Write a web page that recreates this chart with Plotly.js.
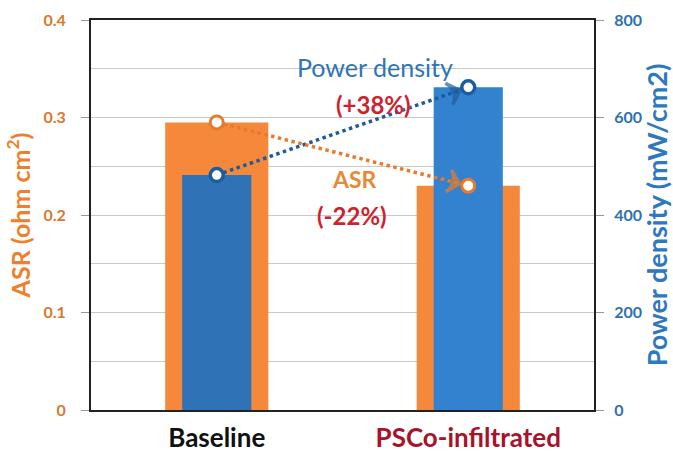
<!DOCTYPE html>
<html>
<head>
<meta charset="utf-8">
<script src="https://cdn.plot.ly/plotly-3.0.1.min.js"></script>
<style>html,body{margin:0;padding:0;background:#fff;}#chart{width:673px;height:454px;}</style>
</head>
<body>
<div id="chart"></div>
<script>
const categories = ['Baseline', 'PSCo-infiltrated'];
const asrValues = [0.295, 0.23];
const powerValues = [482, 662];
const tickLabels = ['Baseline', '<span style="color:#a8122a">PSCo-infiltrated</span>'];
const asrTicks = [0, 0.1, 0.2, 0.3, 0.4];
const powerTicks = [0, 200, 400, 600, 800];
const asrChange = '(-22%)';
const powerChange = '(+38%)';

const asrMax = 0.4, powerMax = 800;
const orange = '#f5883a';
const orangeLine = '#e97a2a';
const blueBars = ['#2f72b5', '#3282cf'];
const blueLine = '#1c5c9e';
const red = '#d01f2e';
const F = 'Lato, "Open Sans", sans-serif';

function arrowTrace(y, axis, color){
  return {type:'scatter', mode:'markers', x:categories, y:y, yaxis:axis,
    marker:{symbol:['circle','arrow-wide-open'], size:[0,16], color:color,
            angleref:'previous', standoff:9, line:{width:3.5, color:color}}, hoverinfo:'skip'};
}

const traces = [
  {type:'bar', x:categories, y:asrValues, yaxis:'y', width:0.41,
   marker:{color:orange}, hoverinfo:'skip'},
  {type:'bar', x:categories, y:powerValues, yaxis:'y2', width:0.275,
   marker:{color:blueBars}, hoverinfo:'skip'},
  {type:'scatter', mode:'lines+markers', x:categories, y:powerValues, yaxis:'y2',
   line:{color:blueLine, width:3.5, dash:'dot'},
   marker:{symbol:'circle', size:13, color:'#fff', line:{color:blueLine, width:3.5}}, hoverinfo:'skip'},
  arrowTrace(powerValues, 'y2', blueLine),
  {type:'scatter', mode:'lines+markers', x:categories, y:asrValues, yaxis:'y3',
   line:{color:orangeLine, width:3.5, dash:'dot'},
   marker:{symbol:'circle', size:13, color:'#fff', line:{color:orangeLine, width:3}}, hoverinfo:'skip'},
  arrowTrace(asrValues, 'y3', orangeLine)
];

const layout = {
  width:673, height:454,
  margin:{l:91, r:79, t:20, b:44},
  paper_bgcolor:'#fff', plot_bgcolor:'#fff',
  showlegend:false,
  barmode:'overlay',
  font:{family:F},
  xaxis:{
    type:'category', tickvals:categories, ticktext:tickLabels,
    tickfont:{size:26, color:'#111', family:F, weight:'bold'},
    showline:true, linecolor:'#222', linewidth:2, mirror:true,
    ticks:'', showgrid:false, zeroline:false, fixedrange:true, ticklabelstandoff:4
  },
  yaxis:{
    range:[0,asrMax], tickvals:asrTicks, ticktext:asrTicks.map(v=>v===0?'0':v.toFixed(1)),
    tickfont:{size:16, color:'#d9772c', family:F, weight:'bold'},
    ticks:'outside', ticklen:8, tickcolor:'#999', tickwidth:1,
    showline:true, linecolor:'#222', linewidth:2,
    showgrid:true, gridcolor:'#c8c8c8', gridwidth:1,
    minor:{dtick:0.05, showgrid:true, gridcolor:'#c8c8c8', gridwidth:1},
    zeroline:false, ticklabelstandoff:12,
    title:{text:'ASR (ohm cm<sup>2</sup>)', font:{size:25, color:'#ee7f2d', family:F, weight:'bold'}, standoff:6}
  },
  yaxis2:{
    overlaying:'y', side:'right', range:[0,powerMax], tickvals:powerTicks,
    tickfont:{size:16, color:'#2e6fae', family:F, weight:'bold'},
    ticks:'outside', ticklen:8, tickcolor:'#999', tickwidth:1,
    showline:true, linecolor:'#222', linewidth:2,
    showgrid:false, zeroline:false, ticklabelstandoff:7,
    title:{text:'Power density (mW/cm2)', font:{size:27, color:'#2e78c0', family:F, weight:'bold'}, standoff:6}
  },
  yaxis3:{overlaying:'y', range:[0,asrMax], visible:false, showgrid:false, zeroline:false},
  annotations:[
    {x:0.5, y:0, xref:'paper', yref:'paper', text:'Power density', showarrow:false,
     font:{size:25, color:'#2e75b6', family:F}},
    {x:0.5, y:0, xref:'paper', yref:'paper', text:powerChange, showarrow:false,
     font:{size:24, color:red, family:F, weight:'bold'}},
    {x:0.5, y:0, xref:'paper', yref:'paper', text:'ASR', showarrow:false,
     font:{size:23, color:'#e8893a', family:F, weight:'bold'}},
    {x:0.5, y:0, xref:'paper', yref:'paper', text:asrChange, showarrow:false,
     font:{size:24, color:red, family:F, weight:'bold'}}
  ]
};
// text label positions in paper coordinates (plot area 91..594 x, 20..410 y)
function px(x){return (x-91)/503;}
function py(y){return (410-y)/390;}
layout.annotations[0].x = px(375); layout.annotations[0].y = py(50);
layout.annotations[1].x = px(373); layout.annotations[1].y = py(88);
layout.annotations[2].x = px(354); layout.annotations[2].y = py(179);
layout.annotations[3].x = px(352); layout.annotations[3].y = py(215);

Plotly.newPlot('chart', traces, layout, {staticPlot:true});
</script>
</body>
</html>
